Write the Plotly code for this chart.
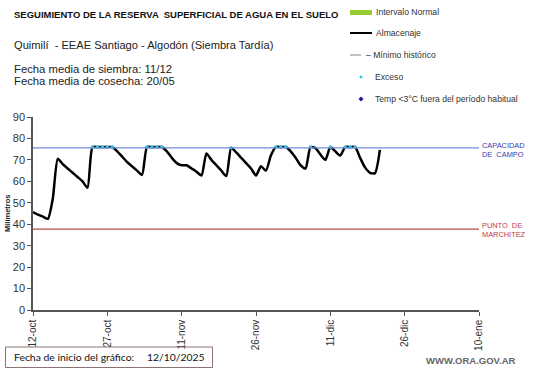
import plotly.graph_objects as go
import datetime as dt

start = dt.date(2025, 10, 12)
almacenaje = [45.7, 44.5, 43.5, 42.5, 52, 70.5, 68, 66, 64, 62, 60, 57,
              76, 76, 76, 76, 76, 74, 71.5, 69, 67, 65, 63,
              76, 76, 76, 76, 74, 71, 68.5, 67.5, 67.5, 66, 64.5, 62.7,
              73, 70, 67.5, 65, 62.5, 75.7, 73.5, 71, 68.5, 66, 62.7,
              67, 65, 72, 76, 76, 76, 74, 71, 67.5, 66,
              76, 75.5, 72.5, 70, 76, 74, 72, 76, 76, 76,
              71, 66.5, 64, 63.8, 74.7]
exceso_days = [12, 13, 14, 15, 16, 23, 24, 25, 26, 40, 49, 50, 51, 56, 60, 63, 64, 65]
exceso_vals = [76, 76, 76, 76, 76, 76, 76, 76, 76, 75.7, 76, 76, 76, 76, 76, 76, 76, 76]
capacidad_campo = 75.6
punto_marchitez = 37.7
tick_days = [0, 15, 30, 45, 60, 75, 90]
tick_labels = ["12-oct", "27-oct", "11-nov", "26-nov", "11-dic", "26-dic", "10-ene"]

dates = [start + dt.timedelta(days=i) for i in range(len(almacenaje))]
exc_dates = [start + dt.timedelta(days=d) for d in exceso_days]
tick_vals = [start + dt.timedelta(days=d) for d in tick_days]
x0 = start
x1 = start + dt.timedelta(days=90)

W, H = 541, 368
L, R, T, B = 33, 479, 117, 310

def px(x):
    return (x - L) / (R - L)

def py(y):
    return (B - y) / (B - T)

fig = go.Figure()
fig.add_trace(go.Scatter(x=dates, y=almacenaje, mode="lines",
                         line=dict(color="black", width=2.5, shape="spline", smoothing=0.6),
                         showlegend=False, hoverinfo="skip"))
fig.add_trace(go.Scatter(x=exc_dates, y=exceso_vals, mode="markers",
                         marker=dict(color="#2ec4e6", size=3.5),
                         showlegend=False, hoverinfo="skip"))

fig.add_shape(type="line", xref="x", yref="y", x0=x0, x1=x1,
              y0=capacidad_campo, y1=capacidad_campo,
              line=dict(color="#6f8fd8", width=1.2))
fig.add_shape(type="line", xref="x", yref="y", x0=x0, x1=x1,
              y0=punto_marchitez, y1=punto_marchitez,
              line=dict(color="#b84a4a", width=1.2))

fig.update_xaxes(range=[x0, x1], tickvals=tick_vals, ticktext=tick_labels,
                 tickangle=-90, ticks="outside", ticklen=4, tickcolor="#555",
                 showline=True, linecolor="#555", linewidth=1.5, showgrid=False,
                 zeroline=False, tickfont=dict(size=10, color="#333",
                                               family="Liberation Sans"))
fig.update_yaxes(range=[0, 90], tickvals=[0, 10, 20, 30, 40, 50, 60, 70, 80, 90],
                 ticks="outside", ticklen=4, tickcolor="#555",
                 showline=True, linecolor="#555", linewidth=1.5, showgrid=False,
                 zeroline=False, tickfont=dict(size=11, color="#333",
                                               family="Liberation Sans"))

ann = []
def txt(x, y, s, size, color="#222", bold=False, xanchor="left", yanchor="middle",
        family="Liberation Sans", angle=0):
    ann.append(dict(x=px(x), y=py(y), xref="paper", yref="paper", text=(f"<b>{s}</b>" if bold else s),
                    showarrow=False, xanchor=xanchor, yanchor=yanchor, textangle=angle,
                    font=dict(size=size, color=color, family=family)))

txt(12, 14, "SEGUIMIENTO DE LA RESERVA  SUPERFICIAL DE AGUA EN EL SUELO", 9.5, "#111", bold=True)
txt(12, 45, "Quimilí  - EEAE Santiago - Algodón (Siembra Tardía)", 11.1, "#222")
txt(12, 69, "Fecha media de siembra: 11/12", 11.3, "#222")
txt(12, 81, "Fecha media de cosecha: 20/05", 11.3, "#222")

txt(374, 12, "Intervalo Normal", 8.6, "#333")
txt(374, 33, "Almacenaje", 8.6, "#333")
txt(364, 55, "– Mínimo histórico", 8.6, "#333")
txt(373, 77, "Exceso", 8.6, "#333")
txt(373, 99, "Temp <3°C fuera del período habitual", 8.6, "#333")

txt(480, 145, "CAPACIDAD", 7.4, "#3a3aa8")
txt(480, 154, "DE  CAMPO", 7.4, "#3a3aa8")
txt(480, 225, "PUNTO  DE", 7.4, "#c03a46")
txt(480, 234, "MARCHITEZ", 7.4, "#c03a46")

txt(7, 213, "Milímetros", 7.5, "#222", bold=True, xanchor="center", angle=-90)

txt(12, 357, "Fecha de inicio del gráfico:", 10.4, "#111", family="Lato")
txt(145, 357, "12/10/2025", 10.4, "#111", family="Lato")
txt(518, 360, "WWW.ORA.GOV.AR", 9.5, "#666", bold=True, xanchor="right")

fig.update_layout(annotations=ann)

shapes_extra = [
    dict(type="rect", xref="paper", yref="paper", x0=px(350), x1=px(372), y0=py(10), y1=py(15),
         fillcolor="#99cc33", line=dict(width=0)),
    dict(type="line", xref="paper", yref="paper", x0=px(350), x1=px(372), y0=py(33), y1=py(33),
         line=dict(color="black", width=2)),
    dict(type="line", xref="paper", yref="paper", x0=px(350), x1=px(361), y0=py(55), y1=py(55),
         line=dict(color="#999", width=1.2)),
    dict(type="circle", xref="paper", yref="paper", x0=px(359.5), x1=px(362.5), y0=py(75.5), y1=py(78.5),
         fillcolor="#2ec4e6", line=dict(width=0)),
    dict(type="path", xref="paper", yref="paper",
         path=f"M {px(361)} {py(96.5)} L {px(363.5)} {py(99)} L {px(361)} {py(101.5)} L {px(358.5)} {py(99)} Z",
         fillcolor="#1a1a9a", line=dict(width=0)),
    dict(type="rect", xref="paper", yref="paper", x0=px(5.5), x1=px(212.5), y0=py(347), y1=py(367.5),
         fillcolor="rgba(0,0,0,0)", line=dict(color="#8c7272", width=1)),
]
for s in shapes_extra:
    fig.add_shape(**s)

fig.update_layout(width=W, height=H, margin=dict(l=L, r=W - R, t=T, b=H - B),
                  plot_bgcolor="white", paper_bgcolor="white", showlegend=False,
                  font=dict(family="Liberation Sans"))
fig.write_html("out.html", config={"displayModeBar": False},
               post_script="document.body.style.margin='0';document.body.style.padding='0';")
